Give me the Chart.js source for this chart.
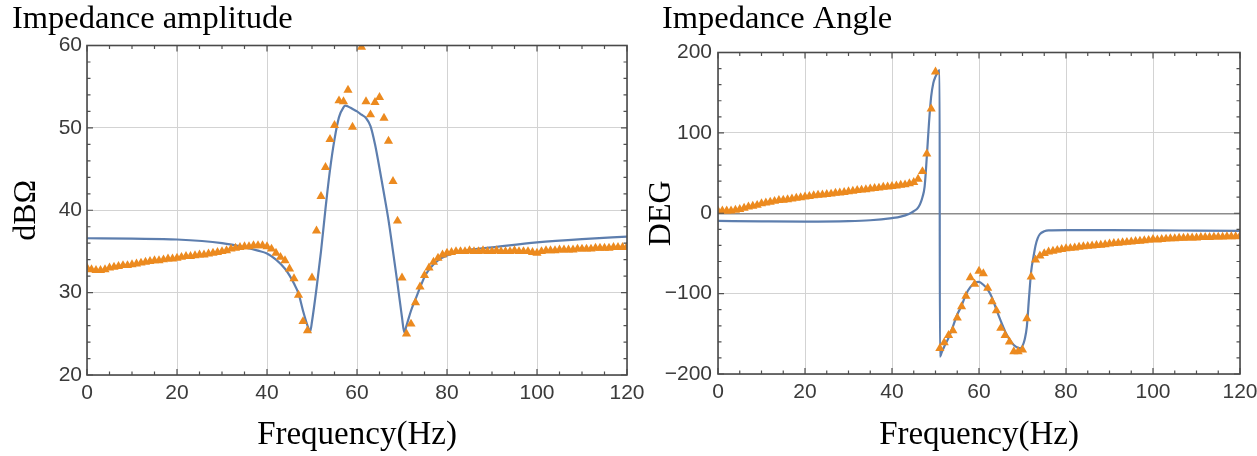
<!DOCTYPE html>
<html>
<head>
<meta charset="utf-8">
<title>Impedance</title>
<script src="https://cdn.jsdelivr.net/npm/chart.js@4.4.1/dist/chart.umd.min.js"></script>
<style>
  html, body { margin: 0; padding: 0; background: #fff; }
  #wrap { position: relative; width: 1257px; height: 456px; overflow: hidden; }
  .panel { position: absolute; top: 0; height: 456px; }
  #ampBox { left: 0; width: 650px; }
  #angBox { left: 630px; width: 627px; }
</style>
</head>
<body>
<div id="wrap">
  <div class="panel" id="ampBox"><canvas id="amp"></canvas></div>
  <div class="panel" id="angBox"><canvas id="ang"></canvas></div>
</div>
<script>
// measured points, one per Hz
const freq = [
  0, 1, 2, 3, 4, 5, 6, 7, 8, 9, 10, 11, 12, 13, 14, 15, 16, 17, 18, 19,
  20, 21, 22, 23, 24, 25, 26, 27, 28, 29, 30, 31, 32, 33, 34, 35, 36, 37, 38, 39,
  40, 41, 42, 43, 44, 45, 46, 47, 48, 49, 50, 51, 52, 53, 54, 55, 56, 57, 58, 59,
  60, 61, 62, 63, 64, 65, 66, 67, 68, 69, 70, 71, 72, 73, 74, 75, 76, 77, 78, 79,
  80, 81, 82, 83, 84, 85, 86, 87, 88, 89, 90, 91, 92, 93, 94, 95, 96, 97, 98, 99,
  100, 101, 102, 103, 104, 105, 106, 107, 108, 109, 110, 111, 112, 113, 114, 115, 116, 117, 118, 119,
  120
];

// amplitude (dB ohm), measured
const ampMeas = [
  33.0, 32.8, 32.7, 32.7, 32.8, 33.0, 33.1, 33.2, 33.3, 33.3,
  33.4, 33.5, 33.6, 33.7, 33.8, 33.9, 33.9, 34.0, 34.1, 34.1,
  34.2, 34.3, 34.4, 34.4, 34.5, 34.6, 34.6, 34.7, 34.8, 34.9,
  35.0, 35.1, 35.3, 35.4, 35.5, 35.6, 35.6, 35.7, 35.7, 35.7,
  35.6, 35.3, 34.8, 34.3, 33.9, 32.9, 31.7, 29.7, 26.5, 25.4,
  31.8, 37.5, 41.7, 45.2, 48.6, 50.3, 53.3, 53.2, 54.6, 50.1,
  63.0, 59.8, 53.2, 51.6, 53.1, 53.7, 51.2, 48.4, 43.5, 38.7,
  31.8, 25.0, 26.2, 28.8, 30.7, 32.1, 33.0, 33.7, 34.2, 34.6,
  34.8, 34.9, 35.0, 35.0, 35.0, 35.1, 35.0, 35.0, 35.1, 35.0,
  35.0, 35.1, 35.0, 35.0, 35.0, 35.1, 35.0, 35.0, 35.0, 34.9,
  34.8, 35.0, 35.1, 35.1, 35.1, 35.2, 35.2, 35.2, 35.2, 35.3,
  35.3, 35.3, 35.3, 35.4, 35.4, 35.4, 35.4, 35.5, 35.5, 35.5,
  35.6
];

// amplitude, fitted model
const ampFitFreq = [
  0, 10, 20, 30, 35, 38, 40, 42, 44, 45, 46, 47, 48, 49, 49.6, 50, 51, 52, 53, 54,
  55, 56, 57, 57.4, 58, 59, 60, 61, 62, 63, 64, 65, 66, 67, 68, 69, 70, 70.5, 71, 72,
  73, 74, 75, 76, 78, 80, 85, 90, 100, 110, 120
];
const ampFit = [
  36.6, 36.55, 36.45, 36.0, 35.5, 35.1, 34.75, 34.0, 32.9, 32.1, 31.1, 29.9, 27.8, 26.0, 25.3, 26.5, 30.5, 35.0, 40.2, 44.9,
  48.6, 51.3, 52.5, 52.7, 52.6, 52.3, 52.0, 51.6, 51.2, 50.2, 48.0, 45.1, 42.0, 38.8, 35.0, 31.1, 27.0, 25.2, 26.0, 27.8,
  29.2, 30.6, 31.9, 32.8, 33.9, 34.5, 35.2, 35.5, 36.1, 36.5, 36.8
];

// angle (deg), measured
const angMeas = [
  3, 3, 3, 3, 4, 5, 6.5, 8, 9, 10,
  12, 13, 14, 15, 16, 16.5, 17, 18, 19, 19.5,
  20.5, 21, 22, 22.5, 23, 23.5, 24, 25, 25.5, 26,
  27, 27.5, 28.5, 29, 29.5, 30.5, 31, 31.5, 32.5, 33,
  33.5, 34, 35, 35.5, 37, 38.5, 42.5, 52, 74, 130,
  176, -168, -161, -152, -146, -130, -116, -103, -80, -88,
  -72, -75, -93, -110, -121, -143, -152, -160, -172, -172,
  -170, -131, -79, -58, -53, -50, -48, -47, -46, -45,
  -44, -43.5, -43, -42, -41.5, -41, -40.5, -40, -39.5, -39,
  -38, -37.5, -37, -36.5, -36, -35.5, -35, -34.5, -34, -33.5,
  -32.5, -33, -32.5, -32, -31.5, -31.5, -31, -31, -30.5, -30.5,
  -30.5, -30, -30, -30, -29.5, -29.5, -29.5, -29, -29, -29,
  -28.5
];

// angle, fitted model
const angFitFreq = [
  0, 10, 20, 30, 35, 40, 42, 44, 45, 46, 46.5, 47, 47.5, 48, 48.5, 49, 49.5, 50, 50.5, 50.95,
  51, 51.5, 52, 53, 54, 55, 56, 57, 58, 59, 60, 61, 62, 63, 64, 65, 66, 67, 68, 69,
  69.5, 70, 70.5, 71, 71.5, 72, 72.5, 73, 73.5, 74, 75, 76, 80, 90, 100, 110, 120
];
const angFit = [
  -9.5, -10, -10.3, -9.8, -8.7, -6, -4.2, -0.5, 2.5, 7, 12, 20, 33, 70, 112, 145, 162, 170, 175, 178,
  -178.5, -172, -166, -155, -141, -126, -115, -101, -92, -87, -85.5, -89, -95, -105, -120, -134, -147, -157, -164, -167.5,
  -168, -165, -157, -141, -105, -72, -55, -40, -31, -26, -22.5, -21.3, -21, -21, -21.2, -21.6, -22
];

const BLUE = '#5d7eae';
const ORANGE = '#ec8a1f';
const GRID = '#d3d3d3';
const TICK = '#3a3a3a';
const SERIF = '"Liberation Serif", "Times New Roman", serif';
const SANS = '"Liberation Sans", Arial, sans-serif';

function pairs(xs, ys) {
  return xs.map((x, i) => ({ x: x, y: ys[i] }));
}

// frame round the plot with inward ticks on all four sides
const framePlugin = {
  id: 'frame',
  afterDatasetsDraw(chart, args, opts) {
    const { ctx, chartArea: a } = chart;
    const x = chart.scales.x, y = chart.scales.y;
    ctx.save();
    ctx.strokeStyle = '#505050';
    ctx.lineWidth = 1.2;
    ctx.beginPath();
    for (let v = x.min; v <= x.max; v += opts.xMinor) {
      const p = x.getPixelForValue(v);
      const len = v % opts.xMajor === 0 ? 6 : 3.5;
      ctx.moveTo(p, a.bottom); ctx.lineTo(p, a.bottom - len);
      ctx.moveTo(p, a.top); ctx.lineTo(p, a.top + len);
    }
    for (let v = y.min; v <= y.max; v += opts.yMinor) {
      const p = y.getPixelForValue(v);
      const len = v % opts.yMajor === 0 ? 6 : 3.5;
      ctx.moveTo(a.left, p); ctx.lineTo(a.left + len, p);
      ctx.moveTo(a.right, p); ctx.lineTo(a.right - len, p);
    }
    ctx.stroke();
    ctx.lineWidth = 1.6;
    ctx.strokeStyle = '#4a4a4a';
    ctx.strokeRect(a.left, a.top, a.right - a.left, a.bottom - a.top);
    ctx.restore();
  }
};

function panel(id, cfg) {
  return new Chart(document.getElementById(id), {
    type: 'scatter',
    data: {
      datasets: [
        {
          label: 'measured',
          data: pairs(freq, cfg.meas),
          pointStyle: 'triangle',
          pointRadius: 5.3,
          pointHoverRadius: 5.3,
          backgroundColor: ORANGE,
          borderColor: ORANGE,
          borderWidth: 0,
          clip: 0
        },
        {
          label: 'fit',
          data: pairs(cfg.fitX, cfg.fitY),
          showLine: true,
          pointRadius: 0,
          borderColor: BLUE,
          borderWidth: 2.2,
          cubicInterpolationMode: 'monotone',
          clip: 0
        }
      ]
    },
    options: {
      responsive: true,
      maintainAspectRatio: false,
      animation: false,
      layout: { padding: cfg.pad },
      plugins: {
        legend: { display: false },
        tooltip: { enabled: false },
        title: {
          display: true,
          text: cfg.title,
          align: 'start',
          color: '#000',
          font: { family: SERIF, size: 32.5, weight: 'normal', lineHeight: 1 },
          padding: { top: 3, bottom: cfg.titleGap }
        },
        frame: cfg.frame
      },
      scales: {
        x: {
          type: 'linear',
          min: 0,
          max: 120,
          ticks: { stepSize: 20, padding: 6, color: TICK, font: { family: SANS, size: 21 } },
          grid: { color: GRID, drawTicks: false },
          border: { display: false },
          title: {
            display: true,
            text: 'Frequency(Hz)',
            color: '#000',
            font: { family: SERIF, size: 33, lineHeight: 1 },
            padding: { top: 0, bottom: 4 }
          },
          afterFit: s => { s.height = cfg.xAxisH; s.paddingLeft = 0; s.paddingRight = 0; }
        },
        y: {
          type: 'linear',
          min: cfg.yMin,
          max: cfg.yMax,
          ticks: {
            stepSize: cfg.yStep,
            padding: cfg.yTickPad,
            color: TICK,
            font: { family: SANS, size: 21 },
            callback: v => String(v).replace('-', '\u2212')
          },
          grid: {
            color: c => (cfg.zeroLine && c.tick && c.tick.value === 0) ? '#8c8c8c' : GRID,
            lineWidth: c => (cfg.zeroLine && c.tick && c.tick.value === 0) ? 1.5 : 1,
            drawTicks: false
          },
          border: { display: false },
          title: {
            display: true,
            text: cfg.yTitle,
            color: '#000',
            font: { family: SERIF, size: 32, lineHeight: 1 },
            padding: { top: cfg.yTitleShift, bottom: 0 }
          },
          afterFit: s => { s.width = cfg.yAxisW; s.paddingTop = 0; s.paddingBottom = 0; }
        }
      }
    },
    plugins: [framePlugin]
  });
}

panel('amp', {
  title: 'Impedance amplitude',
  meas: ampMeas,
  fitX: ampFitFreq,
  fitY: ampFit,
  pad: { left: 12, right: 23, top: 0, bottom: 0 },
  titleGap: 10,
  xAxisH: 81,
  yAxisW: 75,
  yMin: 20,
  yMax: 60,
  yStep: 10,
  yTickPad: 5,
  yTitle: 'dB\u03A9',
  yTitleShift: -1,
  zeroLine: false,
  frame: { xMinor: 5, xMajor: 20, yMinor: 2, yMajor: 10 }
});

panel('ang', {
  title: 'Impedance Angle',
  meas: angMeas,
  fitX: angFitFreq,
  fitY: angFit,
  pad: { left: 32, right: 17, top: 0, bottom: 0 },
  titleGap: 17,
  xAxisH: 82,
  yAxisW: 56,
  yMin: -200,
  yMax: 200,
  yStep: 100,
  yTickPad: 6,
  yTitle: 'DEG',
  yTitleShift: -16,
  zeroLine: true,
  frame: { xMinor: 5, xMajor: 20, yMinor: 20, yMajor: 100 }
});
</script>
</body>
</html>
